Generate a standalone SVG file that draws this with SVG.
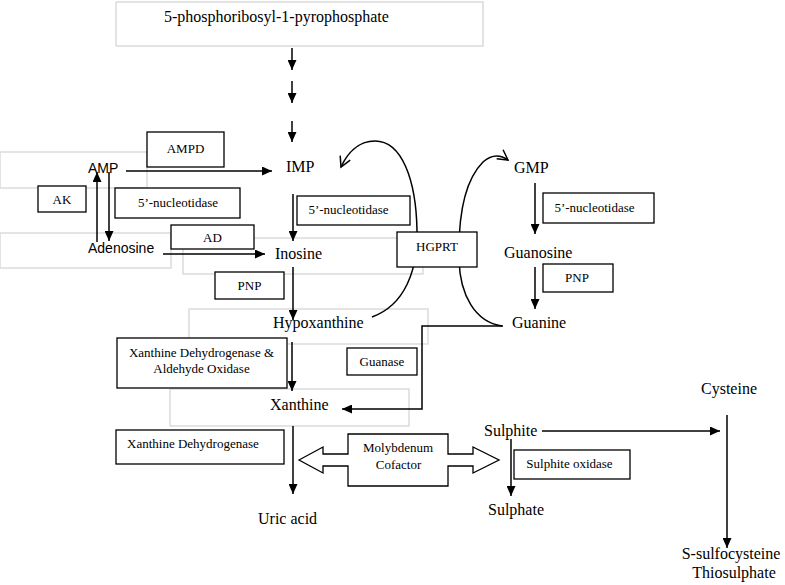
<svg xmlns="http://www.w3.org/2000/svg" width="785" height="585" viewBox="0 0 785 585">
<defs>
<style>
.gb{fill:none;stroke:#d6d6d6;stroke-width:1.3}
.bb{fill:#fff;stroke:#000;stroke-width:1.3}
.lab{font-family:"Liberation Serif","Times New Roman",serif;font-size:13px;fill:#000}
.nd{font-family:"Liberation Serif","Times New Roman",serif;font-size:16px;fill:#000}
.ns{font-family:"Liberation Sans",Arial,sans-serif;font-size:14px;fill:#000}
.ar{fill:none;stroke:#000;stroke-width:1.5;marker-end:url(#ah)}
.cv{fill:none;stroke:#000;stroke-width:1.5;marker-end:url(#ov)}
</style>
<marker id="ah" markerUnits="userSpaceOnUse" markerWidth="11" markerHeight="9" refX="10" refY="4.5" orient="auto">
<path d="M0,0 L10,4.5 L0,9 z" fill="#000"/>
</marker>
<marker id="ov" markerUnits="userSpaceOnUse" markerWidth="14" markerHeight="14" refX="11" refY="6" orient="auto">
<path d="M1,0.5 L11,6 L1,11.5" fill="none" stroke="#000" stroke-width="1.5"/>
</marker>
</defs>
<rect width="785" height="585" fill="#fff"/>

<g id="bg-boxes">
<rect class="gb" x="116" y="2" width="367" height="44"/>
<rect class="gb" x="0" y="152" width="147" height="36"/>
<rect class="gb" x="0" y="233" width="171" height="35"/>
<rect class="gb" x="183" y="238" width="240" height="36"/>
<rect class="gb" x="189" y="309" width="239" height="35"/>
<rect class="gb" x="170" y="389" width="239" height="37"/>
</g>

<g id="connectors">
<path class="ar" d="M292,48 V70"/>
<path class="ar" d="M292,81 V103"/>
<path class="ar" d="M292,121 V142"/>
<path class="ar" d="M126,171 H272"/>
<path class="ar" d="M97,242 V172"/>
<path class="ar" d="M109,172 V241"/>
<path class="ar" d="M293,194 V241"/>
<path class="ar" d="M163,254 H265"/>
<path class="ar" d="M293,267 V320"/>
<path class="ar" d="M292,342 V391"/>
<path class="ar" d="M293,426 V494"/>
<path class="ar" d="M535,183 V234"/>
<path class="ar" d="M535,267 V309"/>
<path class="ar" d="M503,326 H422 V409 H342"/>
<path class="ar" d="M542,431 H720"/>
<path class="ar" d="M511,439 V496"/>
<path class="ar" d="M727,415 V548"/>
<path class="cv" d="M372,317 C405,305 418,270 417,230 C416,180 402,141 375,141 C358,141 347,154 341,167"/>
<path class="cv" d="M502,326 C475,322 460,295 459,260 C458,215 465,180 483,162 C492,154 501,155 508,160"/>
</g>

<g id="n-prpp"><text class="nd" x="164" y="22">5-phosphoribosyl-1-pyrophosphate</text></g>
<g id="n-amp"><text class="ns" x="88" y="173">AMP</text></g>
<g id="n-adenosine"><text class="ns" x="88" y="253">Adenosine</text></g>
<g id="n-imp"><text class="nd" x="286" y="172">IMP</text></g>
<g id="n-inosine"><text class="nd" x="275" y="259">Inosine</text></g>
<g id="n-hypoxanthine"><text class="nd" x="273" y="328">Hypoxanthine</text></g>
<g id="n-xanthine"><text class="nd" x="270" y="410">Xanthine</text></g>
<g id="n-uric"><text class="nd" x="258" y="524">Uric acid</text></g>
<g id="n-gmp"><text class="nd" x="514" y="173">GMP</text></g>
<g id="n-guanosine"><text class="nd" x="504" y="258">Guanosine</text></g>
<g id="n-guanine"><text class="nd" x="512" y="328">Guanine</text></g>
<g id="n-cysteine"><text class="nd" x="701" y="394">Cysteine</text></g>
<g id="n-sulphite"><text class="nd" x="484" y="436">Sulphite</text></g>
<g id="n-sulphate"><text class="nd" x="488" y="515">Sulphate</text></g>
<g id="n-ssulfo"><text class="nd" x="731" y="559" text-anchor="middle">S-sulfocysteine</text><text class="nd" x="734" y="578" text-anchor="middle">Thiosulphate</text></g>

<g id="e-ampd"><rect class="bb" x="147" y="132" width="77" height="35"/><text class="lab" x="185.5" y="153" text-anchor="middle">AMPD</text></g>
<g id="e-ak"><rect class="bb" x="38" y="186" width="48" height="26"/><text class="lab" x="62" y="204" text-anchor="middle">AK</text></g>
<g id="e-5nuc1"><rect class="bb" x="115" y="188" width="125" height="30"/><text class="lab" x="178" y="207" text-anchor="middle">5’-nucleotidase</text></g>
<g id="e-ad"><rect class="bb" x="171" y="225" width="83" height="24"/><text class="lab" x="212.5" y="242" text-anchor="middle">AD</text></g>
<g id="e-5nuc2"><rect class="bb" x="297" y="196" width="113" height="29"/><text class="lab" x="348.5" y="214" text-anchor="middle">5’-nucleotidase</text></g>
<g id="e-hgprt"><rect class="bb" x="397" y="232" width="80" height="35"/><text class="lab" x="437" y="251" text-anchor="middle">HGPRT</text></g>
<g id="e-5nuc3"><rect class="bb" x="543" y="193" width="111" height="30"/><text class="lab" x="594.5" y="212" text-anchor="middle">5’-nucleotidase</text></g>
<g id="e-pnp2"><rect class="bb" x="543" y="264" width="70" height="28"/><text class="lab" x="577" y="282" text-anchor="middle">PNP</text></g>
<g id="e-pnp1"><rect class="bb" x="215" y="272" width="69" height="27"/><text class="lab" x="249.5" y="290" text-anchor="middle">PNP</text></g>
<g id="e-xdhao"><rect class="bb" x="117" y="338" width="170" height="50"/><text class="lab" x="201.5" y="357" text-anchor="middle">Xanthine Dehydrogenase &amp;</text><text class="lab" x="201.5" y="373" text-anchor="middle">Aldehyde Oxidase</text></g>
<g id="e-guanase"><rect class="bb" x="347" y="348" width="70" height="27"/><text class="lab" x="382" y="366" text-anchor="middle">Guanase</text></g>
<g id="e-xdh"><rect class="bb" x="116" y="430" width="168" height="34"/><text class="lab" x="127" y="448">Xanthine Dehydrogenase</text></g>
<g id="e-moco"><polygon class="bb" points="299,460 323,447 323,454 348,454 348,434 448,434 448,454 473,454 473,447 499,460 473,473 473,466 448,466 448,486 348,486 348,466 323,466 323,473"/><text class="lab" x="398" y="452" text-anchor="middle">Molybdenum</text><text class="lab" x="398.5" y="469" text-anchor="middle">Cofactor</text></g>
<g id="e-suox"><rect class="bb" x="514" y="450" width="116" height="29"/><text class="lab" x="569.5" y="468" text-anchor="middle">Sulphite oxidase</text></g>
</svg>
